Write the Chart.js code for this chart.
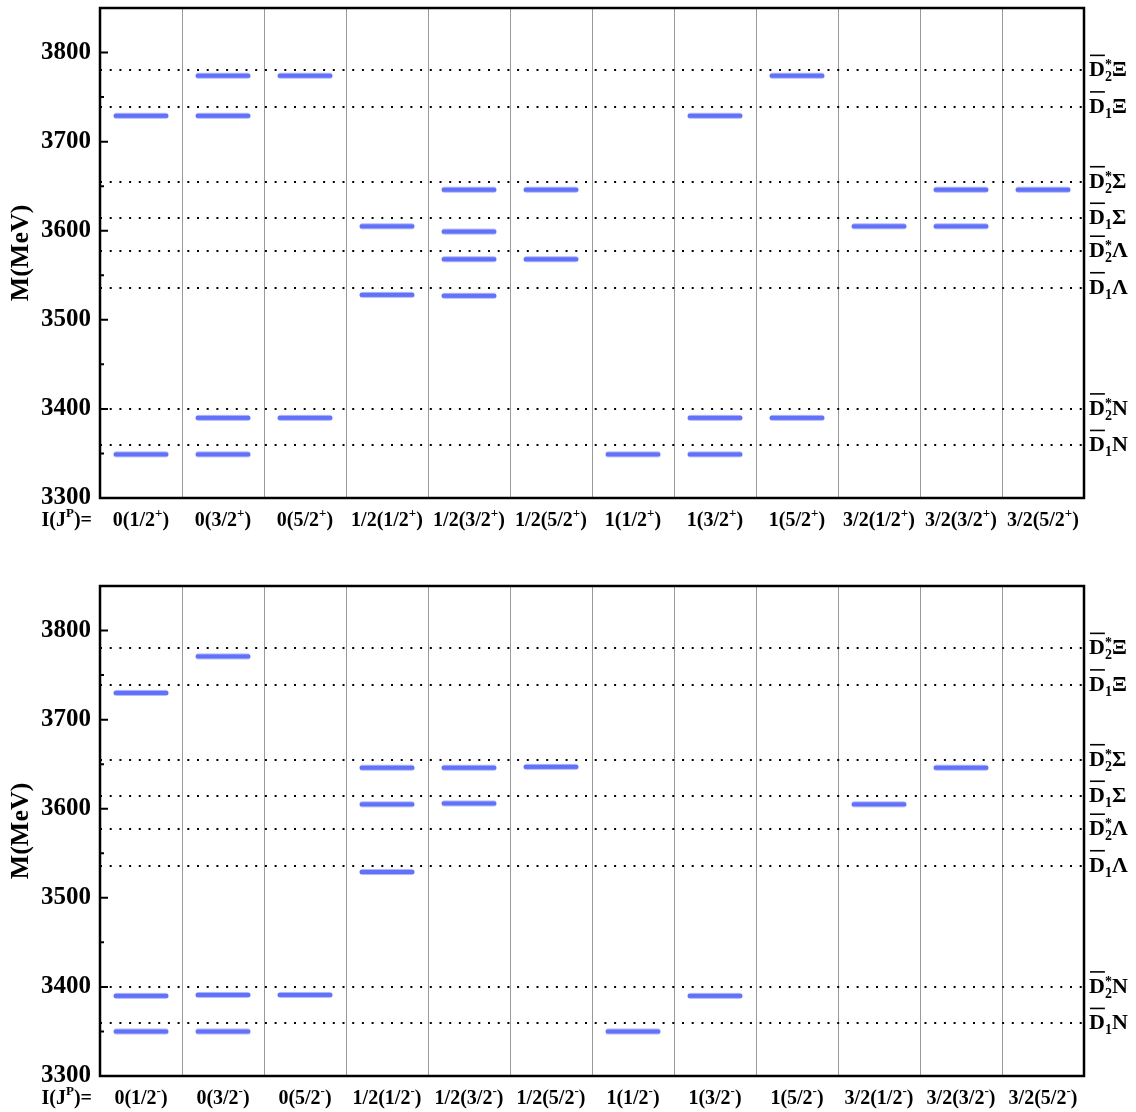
<!DOCTYPE html>
<html lang="en">

<head>
    <meta charset="UTF-8">
    <title>Mass spectrum</title>
    <script src="https://cdn.jsdelivr.net/npm/chart.js"></script>
    <style>
        body {
            margin: 0;
            background: #fff;
        }

        .panel {
            position: absolute;
            left: 0;
            width: 1136px;
            height: 556px;
        }
    </style>
</head>

<body>
    <div class="panel" style="top:0"><canvas id="chartPos" width="1136" height="556"></canvas></div>
    <div class="panel" style="top:556px"><canvas id="chartNeg" width="1136" height="556"></canvas></div>

    <script>
        // columns I(J^P)
        const isospins = ['0', '0', '0', '1/2', '1/2', '1/2', '1', '1', '1', '3/2', '3/2', '3/2'];
        const spins = ['1/2', '3/2', '5/2', '1/2', '3/2', '5/2', '1/2', '3/2', '5/2', '1/2', '3/2', '5/2'];

        // masses (MeV) of the states in each column, positive parity
        const massesPos = [
            [3729, 3349],
            [3774, 3729, 3390, 3349],
            [3774, 3390],
            [3605, 3528],
            [3646, 3599, 3568, 3527],
            [3646, 3568],
            [3349],
            [3729, 3390, 3349],
            [3774, 3390],
            [3605],
            [3646, 3605],
            [3646]
        ];

        // negative parity
        const massesNeg = [
            [3730, 3390, 3350],
            [3771, 3391, 3350],
            [3391],
            [3646, 3605, 3529],
            [3646, 3606],
            [3647],
            [3350],
            [3390],
            [],
            [3605],
            [3646],
            []
        ];

        // thresholds
        const thresholdMasses = [3359, 3400, 3536, 3577, 3614, 3655, 3739, 3780];
        const thresholdSub = ['1', '2', '1', '2', '1', '2', '1', '2'];
        const thresholdStar = [false, true, false, true, false, true, false, true];
        const thresholdBaryon = ['N', 'N', 'Λ', 'Λ', 'Σ', 'Σ', 'Ξ', 'Ξ'];

        const yTicks = [3300, 3400, 3500, 3600, 3700, 3800];
        const yMin = 3300;
        const yMax = 3850;

        const categories = isospins.map((iso, i) => iso + '(' + spins[i] + ')');
        const levelColor = '#6272f8';

        function font(size) {
            return 'bold ' + size + 'px "Liberation Serif", "Times New Roman", serif';
        }

        // rounded level bar used as point style
        const levelImg = document.createElement('canvas');
        levelImg.width = 58;
        levelImg.height = 8;
        (function () {
            const c = levelImg.getContext('2d');
            c.strokeStyle = levelColor;
            c.lineWidth = 5;
            c.lineCap = 'round';
            c.beginPath();
            c.moveTo(4, 4);
            c.lineTo(54, 4);
            c.stroke();
        })();

        function drawSupText(ctx, main, sup, tail, x0, base) {
            ctx.font = font(20);
            const w1 = ctx.measureText(main).width;
            ctx.fillText(main, x0, base);
            ctx.font = font(13);
            const w2 = ctx.measureText(sup).width;
            ctx.fillText(sup, x0 + w1, base - 9);
            ctx.font = font(20);
            ctx.fillText(tail, x0 + w1 + w2, base);
        }

        function supTextWidth(ctx, main, sup, tail) {
            ctx.font = font(20);
            let w = ctx.measureText(main).width + ctx.measureText(tail).width;
            ctx.font = font(13);
            return w + ctx.measureText(sup).width;
        }

        const decorPlugin = {
            id: 'decor',
            afterDraw(chart) {
                const { ctx, chartArea: a, scales } = chart;
                const parity = chart.options.plugins.decor.parity;
                const y = scales.y;
                const y2 = scales.y2;
                const x = scales.x;
                ctx.save();
                ctx.fillStyle = '#000';
                ctx.strokeStyle = '#000';

                // frame
                ctx.lineWidth = 2.5;
                ctx.strokeRect(a.left, a.top, a.right - a.left, a.bottom - a.top);

                // inward ticks
                ctx.lineWidth = 2;
                ctx.beginPath();
                yTicks.forEach(v => {
                    const py = y.getPixelForValue(v);
                    ctx.moveTo(a.left, py);
                    ctx.lineTo(a.left + 8, py);
                    if (v + 50 < yMax) {
                        const pm = y.getPixelForValue(v + 50);
                        ctx.moveTo(a.left, pm);
                        ctx.lineTo(a.left + 4, pm);
                    }
                });
                ctx.stroke();

                // x labels
                ctx.textAlign = 'left';
                ctx.textBaseline = 'alphabetic';
                const base = a.bottom + 28;
                categories.forEach((c, i) => {
                    const main = isospins[i] + '(' + spins[i];
                    const w = supTextWidth(ctx, main, parity, ')');
                    const cx = x.getPixelForValue(i);
                    drawSupText(ctx, main, parity, ')', cx - w / 2, base);
                });
                const wI = supTextWidth(ctx, 'I(J', 'P', ')=');
                drawSupText(ctx, 'I(J', 'P', ')=', a.left - 8 - wI, base);

                // threshold labels
                thresholdMasses.forEach((m, i) => {
                    const py = y2.getPixelForValue(m);
                    const bl = py + 6;
                    const x0 = a.right + 5;
                    ctx.font = font(22);
                    const wD = ctx.measureText('D').width;
                    ctx.fillText('D', x0, bl);
                    ctx.lineWidth = 1.6;
                    ctx.beginPath();
                    ctx.moveTo(x0 + 1, bl - 21);
                    ctx.lineTo(x0 + wD, bl - 21);
                    ctx.stroke();
                    ctx.font = font(14);
                    const wS = ctx.measureText(thresholdSub[i]).width;
                    ctx.fillText(thresholdSub[i], x0 + wD, bl + 5);
                    let wStar = 0;
                    if (thresholdStar[i]) {
                        wStar = ctx.measureText('*').width;
                        ctx.fillText('*', x0 + wD, bl - 7);
                    }
                    ctx.font = font(22);
                    ctx.fillText(thresholdBaryon[i], x0 + wD + Math.max(wS, wStar), bl);
                });
                ctx.restore();
            }
        };

        function makeChart(id, masses, parity, padTop, axisHeight) {
            const points = [];
            masses.forEach((col, i) => {
                col.forEach(m => points.push({ x: categories[i], y: m }));
            });
            return new Chart(document.getElementById(id), {
                type: 'scatter',
                data: {
                    labels: categories,
                    datasets: [{
                        data: points,
                        pointStyle: levelImg,
                        pointRadius: 5,
                        pointHoverRadius: 5
                    }]
                },
                options: {
                    responsive: false,
                    animation: false,
                    layout: { padding: { top: padTop, left: 0, right: 0, bottom: 0 } },
                    plugins: {
                        legend: { display: false },
                        tooltip: { enabled: false },
                        decor: { parity: parity }
                    },
                    scales: {
                        x: {
                            type: 'category',
                            offset: true,
                            grid: { offset: true, color: '#9a9a9a', lineWidth: 1, drawTicks: false },
                            border: { display: false },
                            ticks: { display: false },
                            afterFit: s => { s.height = axisHeight; }
                        },
                        y: {
                            type: 'linear',
                            position: 'left',
                            min: yMin,
                            max: yMax,
                            afterBuildTicks: s => { s.ticks = yTicks.map(v => ({ value: v })); },
                            grid: { display: false, drawTicks: false },
                            border: { display: false },
                            ticks: {
                                color: '#000',
                                font: { family: '"Liberation Serif", serif', size: 25, weight: 'bold' },
                                padding: 9,
                                callback: v => String(v)
                            },
                            title: {
                                display: true,
                                text: 'M(MeV)',
                                color: '#000',
                                font: { family: '"Liberation Serif", serif', size: 26, weight: 'bold' },
                                padding: { top: 6, bottom: 0 }
                            },
                            afterFit: s => { s.width = 100; s.paddingTop = 0; s.paddingBottom = 0; }
                        },
                        y2: {
                            type: 'linear',
                            position: 'right',
                            min: yMin,
                            max: yMax,
                            afterBuildTicks: s => { s.ticks = thresholdMasses.map(v => ({ value: v })); },
                            grid: { drawOnChartArea: true, drawTicks: false, color: '#000', lineWidth: 2 },
                            border: { display: false, dash: [2, 7.7] },
                            ticks: { display: false },
                            afterFit: s => { s.width = 52; s.paddingTop = 0; s.paddingBottom = 0; }
                        }
                    }
                },
                plugins: [decorPlugin]
            });
        }

        makeChart('chartPos', massesPos, '+', 8, 58);
        makeChart('chartNeg', massesNeg, '-', 30, 36);
    </script>
</body>

</html>
